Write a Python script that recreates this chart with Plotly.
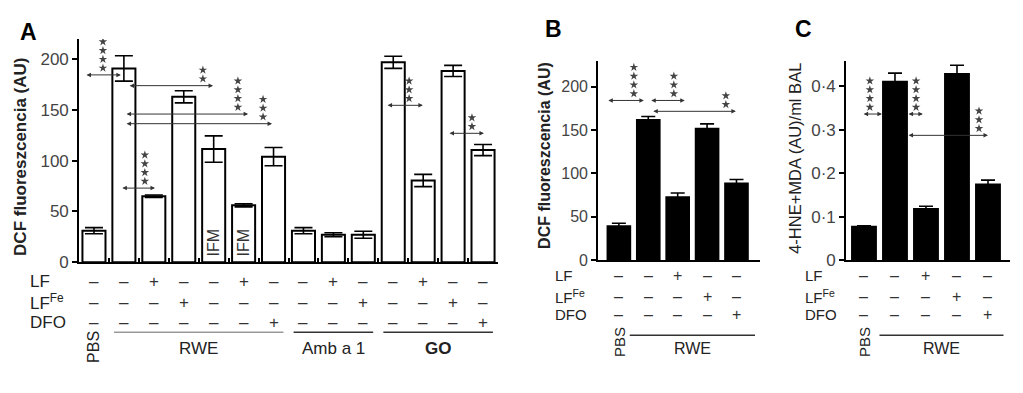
import plotly.graph_objects as go

FONT = "Arial, 'Liberation Sans', Helvetica, sans-serif"
W, H = 1023, 393

# ---------------- DATA ----------------
# Panel A
a_categories = ["PBS", "RWE", "RWE+LF", "RWE+LFFe", "RWE IFM", "RWE IFM+LF", "RWE+DFO",
                "Amb a 1", "Amb a 1+LF", "Amb a 1+LFFe", "GO", "GO+LF", "GO+LFFe", "GO+DFO"]
a_values = [31, 191, 65, 163, 111.5, 56, 104, 31, 27, 27, 197, 80.5, 188.5, 110.5]
a_errors = [3, 12.5, 1.2, 6, 13, 1.5, 9, 3, 2, 3.5, 6, 6, 5.5, 5.5]
a_lf   = ["-", "-", "+", "-", "-", "+", "-", "-", "+", "-", "-", "+", "-", "-"]
a_lffe = ["-", "-", "-", "+", "-", "-", "-", "-", "-", "+", "-", "-", "+", "-"]
a_dfo  = ["-", "-", "-", "-", "-", "-", "+", "-", "-", "-", "-", "-", "-", "+"]
a_inbar_idx = [4, 5]
a_inbar_text = ["IFM", "IFM"]
a_groups = ["RWE", "Amb a 1", "GO"]
a_group_start = [1, 7, 10]
a_group_end = [6, 9, 13]
a_sig_from = [-0.30, 0.90, 1.14, 1.04, 1.04, 9.76, 11.83]
a_sig_to = [0.90, 2.04, 3.98, 5.15, 5.95, 10.99, 13.03]
a_sig_y = [184.6, 73, 174, 146, 136.5, 154.6, 127]
a_sig_star_x = [0.30, 1.70, 3.64, 4.81, 5.65, 10.53, 12.63]
a_sig_n = [4, 4, 2, 4, 3, 3, 2]
a_yticks = [0, 50, 100, 150, 200]

# Panel B
b_categories = ["PBS", "RWE", "RWE+LF", "RWE+LFFe", "RWE+DFO"]
b_values = [39, 161.5, 72.5, 151.5, 88.5]
b_errors = [3.5, 4, 5, 5.5, 4.5]
b_lf   = ["-", "-", "+", "-", "-"]
b_lffe = ["-", "-", "-", "+", "-"]
b_dfo  = ["-", "-", "-", "-", "+"]
b_sig_from = [-0.41, 1.05, 1.12]
b_sig_to = [0.85, 2.24, 3.98]
b_sig_y = [184, 184, 171.5]
b_sig_star_x = [0.51, 1.87, 3.64]
b_sig_n = [4, 3, 2]
b_yticks = [0, 50, 100, 150, 200]

# Panel C
c_categories = ["PBS", "RWE", "RWE+LF", "RWE+LFFe", "RWE+DFO"]
c_values = [0.077, 0.41, 0.118, 0.428, 0.174]
c_errors = [0.002, 0.02, 0.006, 0.02, 0.01]
c_lf   = ["-", "-", "+", "-", "-"]
c_lffe = ["-", "-", "-", "+", "-"]
c_dfo  = ["-", "-", "-", "-", "+"]
c_sig_from = [-0.06, 1.39, 1.39]
c_sig_to = [0.58, 1.90, 4.0]
c_sig_y = [0.336, 0.336, 0.287]
c_sig_star_x = [0.19, 1.68, 3.71]
c_sig_n = [4, 4, 3]
c_yticks = [0, 0.1, 0.2, 0.3, 0.4]
c_yticktext = ["0", "0·1", "0·2", "0·3", "0·4"]

# ---------------- HELPERS ----------------
def px_x(p):
    return p / W

def px_y(p):
    return 1 - p / H

fig = go.Figure()
annotations = []
shapes = []

panels = [
    dict(key="", label="A", cats=a_categories, vals=a_values, errs=a_errors,
         rows=[a_lf, a_lffe, a_dfo], fill="white", cap=9,
         xdom=[79, 498], ytop=40, ybot=269, yrange=[0, 220], xrange=[-0.5, 13.5],
         sig=(a_sig_from, a_sig_to, a_sig_y, a_sig_star_x, a_sig_n),
         yticks=a_yticks, yticktext=[str(v) for v in a_yticks], tick_size=17,
         title="DCF fluoreszcencia (AU)", title_bold=True, title_size=17,
         title_x=21, title_y=161,
         label_x=28, label_y=33, row_label_x=28, row_y=[289, 310, 331],
         row_size=17, sign_size=17,
         groups=a_groups, gstart=a_group_start, gend=a_group_end, gpad=0.33,
         gcolors=["#999999", "#333333", "#333333"], gbold=[False, False, True],
         gsize=17, line_y=341, glabel_y=358, pbs_y=356, pbs_size=16,
         boundary_ticks=True),
    dict(key="2", label="B", cats=b_categories, vals=b_values, errs=b_errors,
         rows=[b_lf, b_lffe, b_dfo], fill="black", cap=7,
         xdom=[598, 760], ytop=63, ybot=267, yrange=[0, 229], xrange=[-0.71, 4.8],
         sig=(b_sig_from, b_sig_to, b_sig_y, b_sig_star_x, b_sig_n),
         yticks=b_yticks, yticktext=[str(v) for v in b_yticks], tick_size=16,
         title="DCF fluoreszcencia (AU)", title_bold=True, title_size=16,
         title_x=545, title_y=160,
         label_x=553, label_y=30, row_label_x=553, row_y=[283, 304, 323],
         row_size=15, sign_size=16,
         groups=["RWE"], gstart=[1], gend=[4], gpad=0.63,
         gcolors=["#333333"], gbold=[False],
         gsize=16, line_y=344, glabel_y=358, pbs_y=351, pbs_size=15,
         boundary_ticks=False),
    dict(key="3", label="C", cats=c_categories, vals=c_values, errs=c_errors,
         rows=[c_lf, c_lffe, c_dfo], fill="black", cap=7,
         xdom=[846, 1010], ytop=63, ybot=267, yrange=[0, 0.457], xrange=[-0.58, 4.71],
         sig=(c_sig_from, c_sig_to, c_sig_y, c_sig_star_x, c_sig_n),
         yticks=c_yticks, yticktext=c_yticktext, tick_size=17,
         title="4-HNE+MDA (AU)/ml BAL", title_bold=False, title_size=16.5,
         title_x=795, title_y=163,
         label_x=803, label_y=30, row_label_x=803, row_y=[283, 304, 323],
         row_size=15, sign_size=16,
         groups=["RWE"], gstart=[1], gend=[4], gpad=0.5,
         gcolors=["#333333"], gbold=[False],
         gsize=16, line_y=344, glabel_y=358, pbs_y=351, pbs_size=15,
         boundary_ticks=False),
]

row_labels = ["LF", "LF<sup>Fe</sup>", "DFO"]
layout_axes = {}

for p in panels:
    k = p["key"]
    xa = "x" + k
    ya = "y" + k
    n = len(p["cats"])
    xs = list(range(n))
    fig.add_trace(go.Bar(
        x=xs, y=p["vals"], xaxis=xa, yaxis=ya, width=0.77,
        marker=dict(color=p["fill"], line=dict(color="black", width=2)),
        error_y=dict(type="data", array=p["errs"], visible=True, color="black",
                     thickness=1.6, width=p["cap"]),
        hovertext=p["cats"], showlegend=False,
    ))
    # significance stars & arrows
    s_from, s_to, s_y, s_sx, s_n = p["sig"]
    dom_h = p["ybot"] - p["ytop"]
    upx = (p["yrange"][1] - p["yrange"][0]) / dom_h  # data units per pixel
    sx, sy = [], []
    for x0, x1, yv, stx, cnt in zip(s_from, s_to, s_y, s_sx, s_n):
        annotations.append(dict(
            x=x1, y=yv, ax=x0, ay=yv, xref=xa, yref=ya, axref=xa, ayref=ya,
            text="", showarrow=True, arrowside="end+start", arrowhead=2,
            arrowsize=0.9, arrowwidth=1, arrowcolor="#333333", standoff=0, startstandoff=0))
        for j in range(cnt):
            sx.append(stx)
            sy.append(yv + (7 + j * 9) * upx)
    fig.add_trace(go.Scatter(
        x=sx, y=sy, xaxis=xa, yaxis=ya, mode="markers",
        marker=dict(symbol="star", size=6.5, color="#444444", line=dict(width=0)),
        hoverinfo="skip", showlegend=False))

    ax_x = dict(domain=[px_x(p["xdom"][0]), px_x(p["xdom"][1])], range=p["xrange"],
                showline=True, linecolor="black", linewidth=2, showgrid=False,
                zeroline=False, showticklabels=False, fixedrange=True,
                anchor=ya)
    if p["boundary_ticks"]:
        ax_x.update(tickvals=[i + 0.5 for i in range(-1, n)], ticks="inside",
                    ticklen=4, tickwidth=1.5, tickcolor="black")
    else:
        ax_x.update(ticks="")
    ax_y = dict(domain=[px_y(p["ybot"]), px_y(p["ytop"])], range=p["yrange"],
                showline=True, linecolor="black", linewidth=1.6, showgrid=False,
                zeroline=False, ticks="outside", ticklen=5, tickwidth=1.5,
                tickcolor="black", tickvals=p["yticks"], ticktext=p["yticktext"],
                tickfont=dict(family=FONT, size=p["tick_size"], color="#444444"),
                anchor=xa, fixedrange=True)
    layout_axes["xaxis" + k] = ax_x
    layout_axes["yaxis" + k] = ax_y

    # axis title
    t = p["title"]
    if p["title_bold"]:
        t = "<b>" + t + "</b>"
    annotations.append(dict(
        x=px_x(p["title_x"]), y=px_y(p["title_y"]), xref="paper", yref="paper",
        text=t, textangle=-90, showarrow=False,
        font=dict(family=FONT, size=p["title_size"], color="#222222"),
        xanchor="center", yanchor="middle"))
    # panel label
    annotations.append(dict(
        x=px_x(p["label_x"]), y=px_y(p["label_y"]), xref="paper", yref="paper",
        text="<b>" + p["label"] + "</b>", showarrow=False,
        font=dict(family=FONT, size=23, color="black"),
        xanchor="center", yanchor="middle"))
    # table rows
    for rl, row, ry in zip(row_labels, p["rows"], p["row_y"]):
        annotations.append(dict(
            x=px_x(p["row_label_x"]), y=px_y(ry), xref="paper", yref="paper",
            text=rl, showarrow=False,
            font=dict(family=FONT, size=p["row_size"], color="#222222"),
            xanchor="left", yanchor="middle"))
        for i, sgn in enumerate(row):
            annotations.append(dict(
                x=i, y=px_y(ry), xref=xa, yref="paper",
                text="–" if sgn == "-" else "+", showarrow=False,
                font=dict(family=FONT, size=p["sign_size"], color="#333333"),
                xanchor="center", yanchor="middle"))
    # PBS label
    annotations.append(dict(
        x=0, y=px_y(p["pbs_y"]), xref=xa, yref="paper", text="PBS",
        textangle=-90, showarrow=False,
        font=dict(family=FONT, size=p["pbs_size"], color="#222222"),
        xanchor="center", yanchor="middle"))
    # group lines and labels
    for gname, gs, ge, gc, gb in zip(p["groups"], p["gstart"], p["gend"], p["gcolors"], p["gbold"]):
        x0 = gs - p["gpad"]
        x1 = ge + p["gpad"]
        shapes.append(dict(type="line", xref=xa, yref="paper", x0=x0, x1=x1,
                           y0=px_y(p["line_y"]), y1=px_y(p["line_y"]),
                           line=dict(color=gc, width=1.5)))
        annotations.append(dict(
            x=(x0 + x1) / 2, y=px_y(p["glabel_y"]), xref=xa, yref="paper",
            text=("<b>" + gname + "</b>") if gb else gname, showarrow=False,
            font=dict(family=FONT, size=p["gsize"], color="#222222"),
            xanchor="center", yanchor="middle"))

# in-bar labels (panel A)
for idx, txt in zip(a_inbar_idx, a_inbar_text):
    annotations.append(dict(
        x=idx, y=19, xref="x", yref="y", text=txt, textangle=-90, showarrow=False,
        font=dict(family=FONT, size=16, color="#333333"),
        xanchor="center", yanchor="middle"))

fig.update_layout(
    width=W, height=H, margin=dict(l=0, r=0, t=0, b=0),
    paper_bgcolor="white", plot_bgcolor="white", showlegend=False,
    annotations=annotations, shapes=shapes, bargap=0.2,
    font=dict(family=FONT),
    **layout_axes,
)

post = ("document.documentElement.style.margin='0';"
        "document.documentElement.style.padding='0';"
        "document.documentElement.style.overflow='hidden';"
        "document.body.style.margin='0';"
        "document.body.style.padding='0';"
        "document.body.style.overflow='hidden';")
fig.write_html("out.html", config={"displayModeBar": False}, post_script=post)
